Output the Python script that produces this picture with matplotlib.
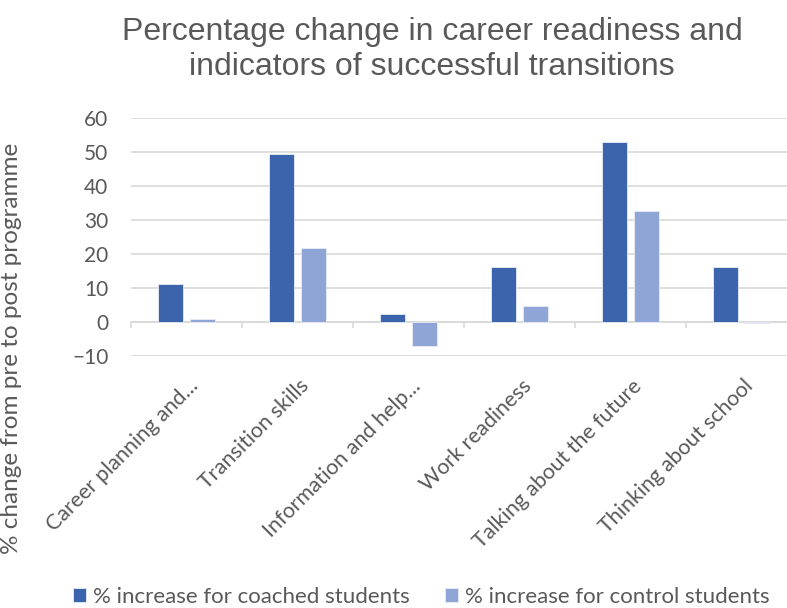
import matplotlib.pyplot as plt
import matplotlib.transforms as mtransforms
import numpy as np

plt.rcParams['font.family'] = ['Lato', 'DejaVu Sans']

categories = ['Career planning and...', 'Transition skills', 'Information and help...',
              'Work readiness', 'Talking about the future', 'Thinking about school']
coached = [11.0, 49.5, 2.4, 16.0, 53.0, 16.0]
control = [0.8, 21.8, -7.0, 4.6, 32.6, -0.5]
series_names = ['% increase for coached students', '% increase for control students']

GREY = '#595959'
GRID = '#D9D9D9'
C1 = '#3B64AD'
C2 = '#8FA5D5'

fig = plt.figure(figsize=(7.87, 6.08), dpi=100)
ax = fig.add_axes([0.166, 0.415, 0.8463, 0.3905])

x = np.arange(len(categories))
w = 0.225
b1 = ax.bar(x - 0.143, coached, w, color=C1, edgecolor='#E8ECF6', linewidth=0.6, label=series_names[0], zorder=3)
b2 = ax.bar(x + 0.143, control, w, color=C2, edgecolor='#E8ECF6', linewidth=0.6, label=series_names[1], zorder=3)

ax.set_xlim(-0.5, len(categories) - 0.5)
ax.set_ylim(-10, 60)
ax.set_yticks(np.arange(-10, 61, 10))
ax.yaxis.grid(True, color=GRID, linewidth=1.2, zorder=0)
ax.set_axisbelow(True)

for s in ['top', 'right', 'left']:
    ax.spines[s].set_visible(False)
ax.spines['bottom'].set_position(('data', 0))
ax.spines['bottom'].set_color(GRID)
ax.spines['bottom'].set_linewidth(1.2)

ax.set_xticks(x)
ax.set_xticklabels(categories, rotation=45, ha='right', va='center', rotation_mode='anchor')
ax.set_xticks(np.arange(-0.5, len(categories)), minor=True)
ax.tick_params(axis='x', which='major', length=0, pad=44, labelsize=15.5, labelcolor=GREY)
ax.tick_params(axis='x', which='minor', length=4, width=1.2, color=GRID, direction='out')
ax.tick_params(axis='y', length=0, pad=16, labelsize=15, labelcolor=GREY)
shift = mtransforms.ScaledTranslation(9 / 100, 0, fig.dpi_scale_trans)
for lab in ax.get_xticklabels():
    lab.set_transform(lab.get_transform() + shift)

ax.set_ylabel('% change from pre to post programme', fontsize=17.5, color=GREY)
ax.yaxis.set_label_coords(-0.163, 0.03)

fig.text(0.549, 0.972, 'Percentage change in career readiness and\nindicators of successful transitions',
         ha='center', va='top', fontsize=23, color=GREY, family='Liberation Sans', linespacing=1.2)

fig.legend(handles=[b1, b2], loc='center', bbox_to_anchor=(0.535, 0.018), ncol=2, frameon=False,
           fontsize=16, labelcolor=GREY, handlelength=0.6, handleheight=0.6, handletextpad=0.3,
           columnspacing=1.6)

fig.savefig('out.png', dpi=100)
